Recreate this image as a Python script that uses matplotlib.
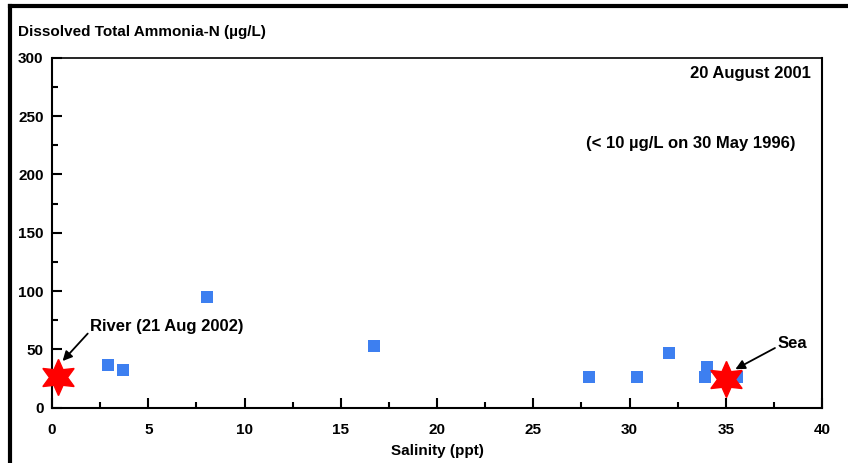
import matplotlib.pyplot as plt
from matplotlib.lines import Line2D
from matplotlib.ticker import MultipleLocator

plt.rcParams['font.family'] = ['Liberation Sans Narrow', 'Liberation Sans', 'DejaVu Sans']
plt.rcParams['font.weight'] = 'bold'
plt.rcParams['axes.labelweight'] = 'bold'

# samples, 20 August 2001
salinite = [2.9, 3.7, 8.05, 16.75, 27.9, 30.4, 32.05, 34.0, 33.9, 35.6]
ammonium = [37, 32, 95, 53, 26, 26, 47, 35, 26, 26]

# end members
riviere = (0.3, 26)
mer = (35.0, 25)

fig = plt.figure(figsize=(8.48, 4.63), dpi=100)
ax = fig.add_axes([52/848, 1-407.7/463, 770/848, 350/463])

ax.scatter(salinite, ammonium, marker='s', s=75, color='#3d7ff0', zorder=3, linewidths=0)
ax.plot([riviere[0], mer[0]], [riviere[1], mer[1]], ls='none', marker=(6, 1, 0),
        ms=26, color='#ff0000', zorder=4, clip_on=False)

ax.set_xlim(0, 40)
ax.set_ylim(0, 300)
ax.xaxis.set_major_locator(MultipleLocator(5))
ax.xaxis.set_minor_locator(MultipleLocator(2.5))
ax.yaxis.set_major_locator(MultipleLocator(50))
ax.yaxis.set_minor_locator(MultipleLocator(25))
ax.tick_params(which='both', direction='in', width=1.5, labelsize=11, pad=6)
ax.tick_params(axis='x', which='both', pad=11)
ax.tick_params(which='major', length=7)
ax.tick_params(which='minor', length=4)
ax.tick_params(axis='y', which='both', right=False)
for s in ax.spines.values():
    s.set_linewidth(1.5)
ax.spines['top'].set_linewidth(1.2)

ax.set_xlabel('Salinity (ppt)', fontsize=11, labelpad=5)
fig.text(18/848, 1-32/463, 'Dissolved Total Ammonia-N (µg/L)', fontsize=11, va='center')

ax.text(0.985, 0.955, '20 August 2001', transform=ax.transAxes, ha='right', va='center', fontsize=12)
ax.text(0.965, 0.755, '(< 10 µg/L on 30 May 1996)', transform=ax.transAxes, ha='right', va='center', fontsize=12)

ax.annotate('River (21 Aug 2002)', xy=(0.55, 40), xytext=(2.0, 70), fontsize=12,
            ha='left', va='center',
            arrowprops=dict(arrowstyle='-|>', color='black', lw=1.3, mutation_scale=14,
                            shrinkA=0, shrinkB=0, relpos=(0.0, 0.2)))
ax.annotate('Sea', xy=(35.5, 33), xytext=(37.7, 55), fontsize=12,
            ha='left', va='center',
            arrowprops=dict(arrowstyle='-|>', color='black', lw=1.3, mutation_scale=14,
                            shrinkA=0, shrinkB=0, relpos=(0.0, 0.3)))

# outer frame (top and left edges only visible)
fig.add_artist(Line2D([10/848, 10/848], [0, 1-6/463], transform=fig.transFigure, color='black', lw=3))
fig.add_artist(Line2D([10/848, 1], [1-6/463, 1-6/463], transform=fig.transFigure, color='black', lw=3))

fig.savefig('out.png', dpi=100)
